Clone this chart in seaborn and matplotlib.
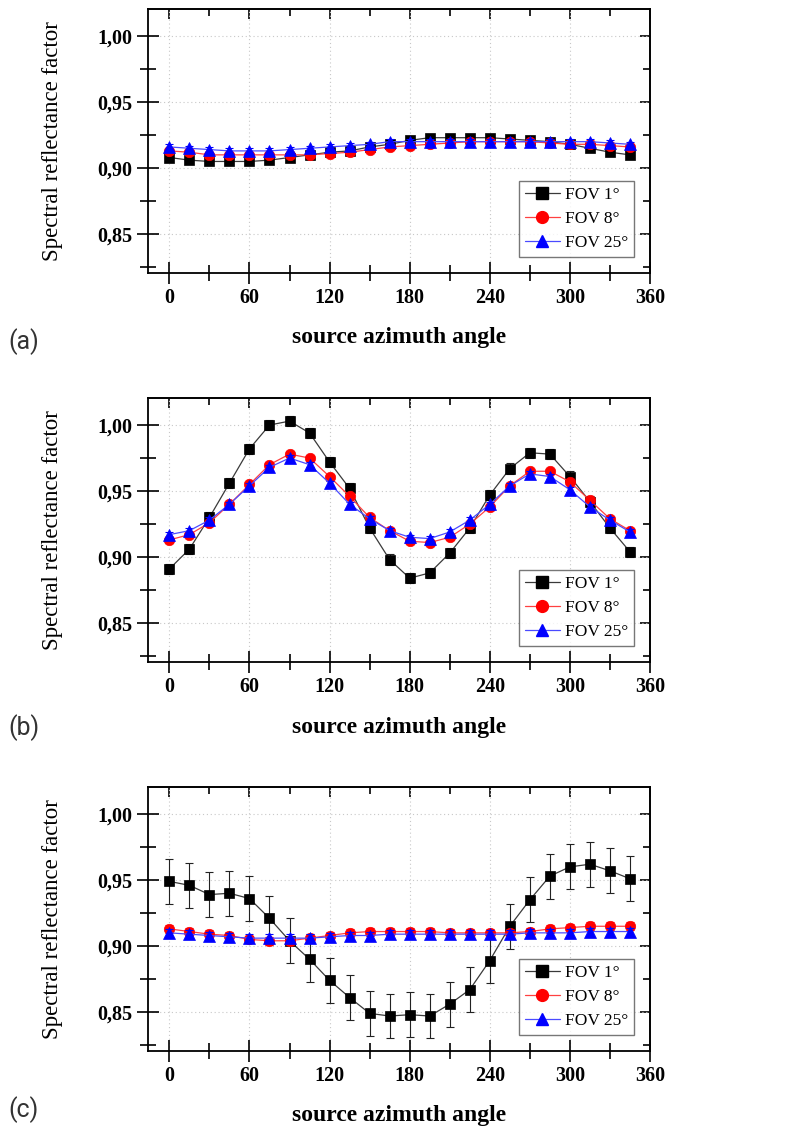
import numpy as np
import pandas as pd
import matplotlib
matplotlib.use("Agg")
import matplotlib.pyplot as plt
import seaborn as sns
from matplotlib.ticker import MultipleLocator, FixedLocator
from matplotlib.lines import Line2D

# ---------------- data ----------------
azimuth = [0, 15, 30, 45, 60, 75, 90, 105, 120, 135, 150, 165,
           180, 195, 210, 225, 240, 255, 270, 285, 300, 315, 330, 345]
series_names = ["FOV 1°", "FOV 8°", "FOV 25°"]
panel_labels = ["(a)", "(b)", "(c)"]
x_ticks = [0, 60, 120, 180, 240, 300, 360]
y_ticks = [0.85, 0.90, 0.95, 1.00]
y_tick_labels = ["0,85", "0,90", "0,95", "1,00"]

# panel (a)
a_fov1 = [0.908, 0.906, 0.905, 0.905, 0.905, 0.906, 0.908, 0.910, 0.912, 0.913, 0.916, 0.918,
          0.921, 0.923, 0.923, 0.923, 0.923, 0.922, 0.921, 0.920, 0.918, 0.915, 0.912, 0.910]
a_fov8 = [0.913, 0.912, 0.910, 0.910, 0.910, 0.910, 0.910, 0.910, 0.911, 0.912, 0.914, 0.916,
          0.917, 0.918, 0.919, 0.920, 0.920, 0.920, 0.920, 0.919, 0.918, 0.918, 0.917, 0.916]
a_fov25 = [0.916, 0.915, 0.914, 0.913, 0.913, 0.913, 0.914, 0.915, 0.916, 0.917, 0.918, 0.920,
           0.920, 0.920, 0.920, 0.920, 0.920, 0.920, 0.920, 0.920, 0.920, 0.920, 0.919, 0.918]
a_err1 = [0.002] * 24
a_err8 = [0.002] * 24
a_err25 = [0.002] * 24

# panel (b)
b_fov1 = [0.891, 0.906, 0.930, 0.956, 0.982, 1.000, 1.003, 0.994, 0.972, 0.952, 0.922, 0.898,
          0.884, 0.888, 0.903, 0.922, 0.947, 0.967, 0.979, 0.978, 0.961, 0.942, 0.922, 0.904]
b_fov8 = [0.913, 0.917, 0.926, 0.940, 0.955, 0.970, 0.978, 0.975, 0.961, 0.946, 0.930, 0.920,
          0.912, 0.911, 0.915, 0.925, 0.938, 0.954, 0.965, 0.965, 0.957, 0.943, 0.929, 0.920]
b_fov25 = [0.917, 0.920, 0.928, 0.940, 0.954, 0.968, 0.975, 0.970, 0.956, 0.940, 0.929, 0.920,
           0.915, 0.914, 0.919, 0.928, 0.940, 0.954, 0.963, 0.961, 0.951, 0.938, 0.928, 0.919]
b_err1 = [0.004] * 24
b_err8 = [0.002] * 24
b_err25 = [0.002] * 24

# panel (c)
c_fov1 = [0.949, 0.946, 0.939, 0.940, 0.936, 0.921, 0.904, 0.890, 0.874, 0.861, 0.849, 0.847,
          0.848, 0.847, 0.856, 0.867, 0.889, 0.915, 0.935, 0.953, 0.960, 0.962, 0.957, 0.951]
c_fov8 = [0.913, 0.911, 0.909, 0.908, 0.905, 0.904, 0.904, 0.906, 0.908, 0.910, 0.911, 0.911,
          0.911, 0.911, 0.910, 0.910, 0.910, 0.910, 0.911, 0.913, 0.914, 0.915, 0.915, 0.915]
c_fov25 = [0.910, 0.909, 0.908, 0.907, 0.906, 0.906, 0.906, 0.906, 0.907, 0.908, 0.908, 0.909,
           0.909, 0.909, 0.909, 0.909, 0.909, 0.909, 0.910, 0.910, 0.910, 0.911, 0.911, 0.911]
c_err1 = [0.017] * 24
c_err8 = [0.003] * 24
c_err25 = [0.003] * 24

panels = [
    ([a_fov1, a_fov8, a_fov25], [a_err1, a_err8, a_err25]),
    ([b_fov1, b_fov8, b_fov25], [b_err1, b_err8, b_err25]),
    ([c_fov1, c_fov8, c_fov25], [c_err1, c_err8, c_err25]),
]

# ---------------- style ----------------
sns.set_theme(style="white")
plt.rcParams["font.family"] = ["Liberation Serif", "DejaVu Serif"]
plt.rcParams["text.color"] = "black"
plt.rcParams["axes.labelcolor"] = "black"
plt.rcParams["xtick.color"] = "black"
plt.rcParams["ytick.color"] = "black"

line_colors = ["#3a3a3a", "#ff4040", "#4a4aff"]
marker_colors = ["black", "red", "blue"]
markers = ["s", "o", "^"]
msizes = [7, 7.5, 8]

fig = plt.figure(figsize=(7.9, 11.36), dpi=100)
W, H = 790, 1136
ax_left, ax_right = 148, 650
tops = [9, 398, 787]
bottoms = [273, 662, 1051]
label_y = [342, 728, 1110]
ax_h = 264

for i, (vals, errs) in enumerate(panels):
    ax = fig.add_axes([ax_left / W, 1 - bottoms[i] / H,
                       (ax_right - ax_left) / W, (bottoms[i] - tops[i]) / H])
    for k in range(3):
        df = pd.DataFrame({"azimuth": azimuth, "value": vals[k]})
        ax.errorbar(azimuth, vals[k], yerr=errs[k], fmt="none",
                    ecolor=marker_colors[k] if k else "#222222",
                    elinewidth=0.8, capsize=3, capthick=0.8, zorder=2 + k)
        sns.lineplot(data=df, x="azimuth", y="value", ax=ax,
                     color=line_colors[k], linewidth=0.9,
                     marker=markers[k], markersize=msizes[k],
                     markerfacecolor=marker_colors[k],
                     markeredgecolor=marker_colors[k], markeredgewidth=0.5,
                     zorder=3 + k, legend=False)

    ax.set_xlim(-16, 360)
    ax.set_ylim(0.8205, 1.0205)
    ax.xaxis.set_major_locator(FixedLocator(x_ticks))
    ax.xaxis.set_minor_locator(MultipleLocator(30))
    ax.yaxis.set_major_locator(FixedLocator(y_ticks))
    ax.yaxis.set_minor_locator(FixedLocator([0.825, 0.875, 0.925, 0.975]))
    ax.set_xticklabels([str(t) for t in x_ticks], fontsize=14.5, fontweight="bold")
    ax.set_yticklabels(y_tick_labels, fontsize=14.5, fontweight="bold")
    ax.tick_params(which="major", direction="inout", length=16, width=1.2,
                   bottom=True, left=True, pad=3)
    ax.tick_params(which="minor", direction="inout", length=11, width=1.2,
                   bottom=True, left=True)
    ax.grid(True, which="major", linestyle=(0, (1, 2.5)), color="#c8c8c8", linewidth=0.8)
    for sp in ax.spines.values():
        sp.set_color("black")
        sp.set_linewidth(1.3)

    # mirrored inward ticks on top and right
    sx = ax.secondary_xaxis("top")
    sx.xaxis.set_major_locator(FixedLocator(x_ticks))
    sx.xaxis.set_minor_locator(MultipleLocator(30))
    sx.tick_params(which="major", direction="in", length=7, width=1.2, labeltop=False)
    sx.tick_params(which="minor", direction="in", length=5, width=1.2, labeltop=False)
    sy = ax.secondary_yaxis("right")
    sy.yaxis.set_major_locator(FixedLocator(y_ticks))
    sy.yaxis.set_minor_locator(FixedLocator([0.825, 0.875, 0.925, 0.975]))
    sy.tick_params(which="major", direction="in", length=7, width=1.2, labelright=False)
    sy.tick_params(which="minor", direction="in", length=5, width=1.2, labelright=False)

    ax.set_xlabel("source azimuth angle", fontsize=17, fontweight="bold")
    ax.xaxis.set_label_coords(0.5, -65 / ax_h)
    ax.xaxis.label.set_va("center")
    ax.set_ylabel("Spectral reflectance factor", fontsize=16.5)
    ax.yaxis.set_label_coords(-(ax_left - 53) / (ax_right - ax_left), 0.5)
    ax.yaxis.label.set_va("center")

    handles = [Line2D([0], [0], color=line_colors[k], linewidth=0.9, marker=markers[k],
                      markersize=msizes[k] + 1, markerfacecolor=marker_colors[k],
                      markeredgecolor=marker_colors[k])
               for k in range(3)]
    leg = ax.legend(handles, series_names, loc="lower right", fontsize=12.5,
                    frameon=True, fancybox=False, edgecolor="#555555",
                    borderaxespad=0.9, handlelength=2.0, handletextpad=0.3,
                    labelspacing=0.45, borderpad=0.35)
    leg.get_frame().set_linewidth(1.0)

    fig.text(8 / W, 1 - label_y[i] / H, panel_labels[i], fontsize=18,
             family=["Roboto", "DejaVu Sans"], color="#333333", va="center", ha="left")

fig.savefig("out.png", dpi=100)
